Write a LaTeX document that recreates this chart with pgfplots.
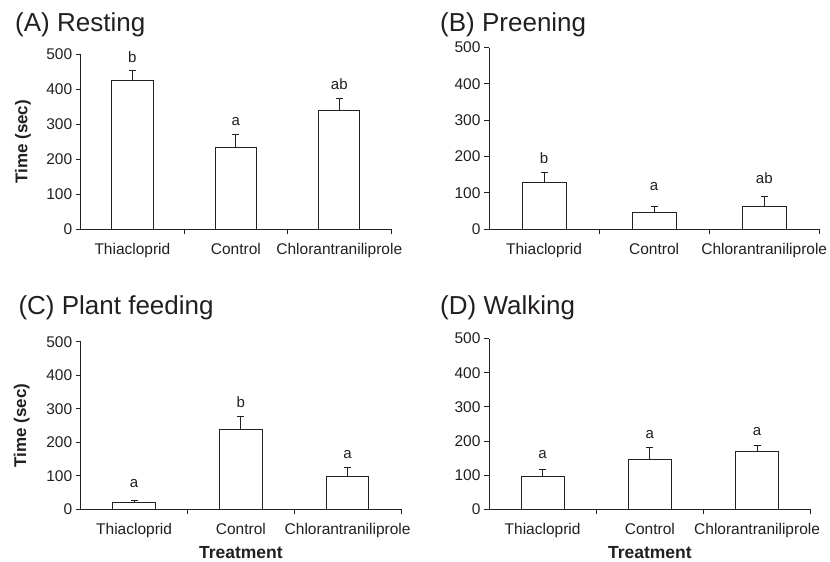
\documentclass[border=0pt]{standalone}
\usepackage{fontspec}
\setmainfont{Liberation Sans}
\usepackage{pgfplots}
\pgfplotsset{compat=1.18}

\definecolor{ink}{HTML}{231F20}

\pgfplotsset{
  panel/.style={
    scale only axis,
    anchor=south west,
    axis x line*=bottom,
    axis y line*=left,
    axis line style={ink, line width=1pt},
    xmin=0.5, xmax=3.5,
    ymin=0, ymax=500,
    ytick={0,100,...,500},
    xtick={1,2,3},
    xticklabels={Thiacloprid,Control,Chlorantraniliprole},
    minor xtick={1.5,2.5,3.5},
    major x tick style={draw=none},
    tick align=outside,
    major tick length=5pt,
    minor tick length=5pt,
    tick style={ink, line width=1pt},
    every tick label/.append style={font=\fontsize{15.5}{18}\selectfont, text=ink},
    /pgf/number format/assume math mode=true,
    xticklabel style={yshift=-5pt},
    ylabel style={font=\fontsize{17}{20}\selectfont\bfseries, text=ink},
    xlabel style={font=\fontsize{17.5}{20}\selectfont\bfseries, text=ink, inner sep=0pt},
    ybar, bar width=0.4,
    clip=false,
  },
  bars/.style={
    draw=ink, fill=white, line width=1pt,
    error bars/.cd, y dir=plus, y explicit,
    error bar style={ink, line width=1pt},
    error mark options={rotate=90, mark size=3.5pt, line width=1pt, ink},
  },
}
\tikzset{
  lettr/.style={font=\fontsize{15}{18}\selectfont, text=ink},
  ttl/.style={anchor=base west, font=\fontsize{26}{30}\selectfont, text=ink},
}

\begin{document}
\begin{tikzpicture}
\useasboundingbox (0,0) rectangle (830pt,562pt);

% (A) Resting
\begin{axis}[panel, at={(80.7pt,332.7pt)}, width=310.3pt, height=175pt,
  ylabel={Time (sec)},
  ylabel style={at={(axis description cs:-0.186,0.5)}, anchor=center}]
\addplot[bars] table[x=x, y=y, y error=e] {
x y e
1 425 29
2 233 38
3 338 35
};
\node[lettr] at (axis cs:1,491) {b};
\node[lettr] at (axis cs:2,307) {a};
\node[lettr] at (axis cs:3,414) {ab};
\end{axis}

% (B) Preening
\begin{axis}[panel, at={(489pt,332.7pt)}, width=330.3pt, height=181.7pt]
\addplot[bars] table[x=x, y=y, y error=e] {
x y e
1 128 29
2 46 16
3 64 26
};
\node[lettr] at (axis cs:1,195) {b};
\node[lettr] at (axis cs:2,117) {a};
\node[lettr] at (axis cs:3,142) {ab};
\end{axis}

% (C) Plant feeding
\begin{axis}[panel, at={(80.7pt,52.7pt)}, width=320.3pt, height=167.3pt,
  ylabel={Time (sec)},
  ylabel style={at={(axis description cs:-0.184,0.5)}, anchor=center},
  xlabel={Treatment},
  xlabel style={at={(axis description cs:0.5,-0.257)}, anchor=center}]
\addplot[bars] table[x=x, y=y, y error=e] {
x y e
1 19 8
2 238 40
3 98 26
};
\node[lettr] at (axis cs:1,78) {a};
\node[lettr] at (axis cs:2,319) {b};
\node[lettr] at (axis cs:3,164) {a};
\end{axis}

% (D) Walking
\begin{axis}[panel, at={(489pt,52.7pt)}, width=321.7pt, height=170.7pt,
  xlabel={Treatment},
  xlabel style={at={(axis description cs:0.5,-0.252)}, anchor=center}]
\addplot[bars] table[x=x, y=y, y error=e] {
x y e
1 97 19
2 147 33
3 170 18
};
\node[lettr] at (axis cs:1,159) {a};
\node[lettr] at (axis cs:2,220) {a};
\node[lettr] at (axis cs:3,227) {a};
\end{axis}

\node[ttl] at (11.7pt,530.3pt) {(A) Resting};
\node[ttl] at (436.7pt,530.3pt) {(B) Preening};
\node[ttl] at (15pt,247.7pt) {(C) Plant feeding};
\node[ttl] at (436.7pt,247.7pt) {(D) Walking};
\end{tikzpicture}
\end{document}
